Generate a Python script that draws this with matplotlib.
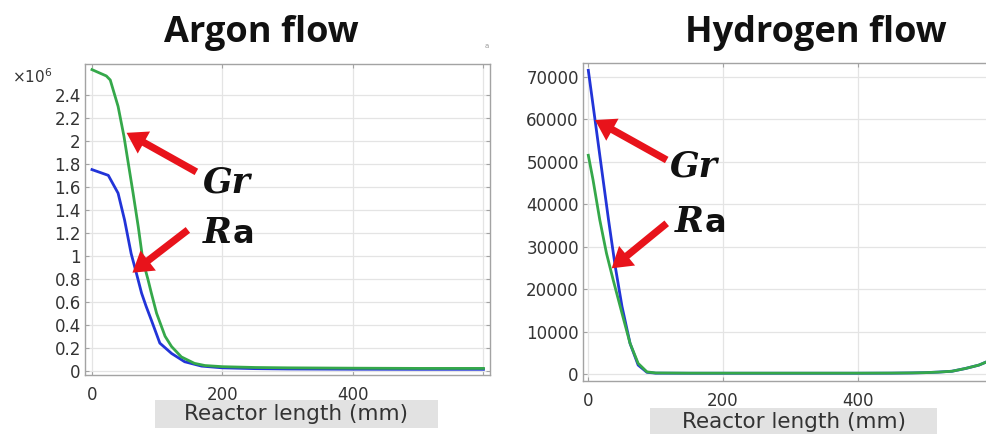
import matplotlib
matplotlib.use("Agg")
import matplotlib.pyplot as plt
from matplotlib.patches import Rectangle
from matplotlib.ticker import FuncFormatter

# ---- Argon flow: dimensionless numbers along the reactor ----
argon_blue_x = [0, 25, 40, 50, 60, 68, 76, 83, 91, 104, 122, 142, 168, 200, 250, 300, 400, 500, 600]
argon_blue_y = [1.75e6, 1.70e6, 1.545e6, 1.31e6, 1.02e6, 0.85e6, 0.675e6, 0.56e6, 0.44e6, 0.24e6,
                0.15e6, 0.078e6, 0.04e6, 0.025e6, 0.018e6, 0.015e6, 0.013e6, 0.012e6, 0.012e6]

argon_green_x = [0, 22, 28, 40, 49, 63, 71, 78, 86, 91, 99, 112, 122, 137, 157, 173, 200, 250,
                 300, 400, 500, 600]
argon_green_y = [2.62e6, 2.565e6, 2.53e6, 2.30e6, 2.04e6, 1.545e6, 1.25e6, 0.96e6, 0.79e6, 0.675e6,
                 0.50e6, 0.30e6, 0.21e6, 0.12e6, 0.064e6, 0.045e6, 0.035e6, 0.028e6, 0.025e6,
                 0.022e6, 0.02e6, 0.02e6]

# ---- Hydrogen flow ----
hydrogen_blue_x = [0, 10, 20, 30, 40, 50, 62, 74, 87, 100, 150, 200, 300, 400, 450, 480, 500,
                   520, 540, 560, 580, 592, 600]
hydrogen_blue_y = [71500, 59800, 48000, 36300, 25300, 15900, 7200, 2100, 400, 200, 180, 180, 180,
                   180, 200, 250, 320, 450, 650, 1300, 2100, 2900, 3500]

hydrogen_green_x = [0, 7, 17, 27, 37, 50, 62, 74, 87, 100, 150, 200, 300, 400, 450, 480, 500,
                    520, 540, 560, 580, 592, 600]
hydrogen_green_y = [51500, 45700, 36300, 28400, 22100, 14300, 7200, 2500, 500, 250, 200, 200, 200,
                    200, 220, 260, 320, 450, 650, 1300, 2100, 2900, 3500]

argon_yticks = [0, 0.2e6, 0.4e6, 0.6e6, 0.8e6, 1.0e6, 1.2e6, 1.4e6, 1.6e6, 1.8e6, 2.0e6, 2.2e6, 2.4e6]
hydrogen_yticks = [0, 10000, 20000, 30000, 40000, 50000, 60000, 70000]
x_ticks = [0, 200, 400, 600]
x_ticklabels = ["0", "200", "400", ""]

panel_titles = ["Argon flow", "Hydrogen flow"]
x_label = "Reactor length (mm)"

W, H = 987, 434
BLUE = "#2234d8"
GREEN = "#35a84a"
RED = "#e8131b"
TXT = "#333333"

fig = plt.figure(figsize=(W / 100, H / 100), dpi=100)
fig.patch.set_facecolor("white")


def px_axes(left, top, right, bottom):
    return fig.add_axes([left / W, 1 - bottom / H, (right - left) / W, (bottom - top) / H])


def style(ax):
    for s in ax.spines.values():
        s.set_color("#a3a3a3")
        s.set_linewidth(1.0)
    ax.grid(True, color="#e4e4e4", lw=0.9)
    ax.set_axisbelow(True)
    ax.tick_params(direction="in", length=3, width=0.8, color="#a3a3a3",
                   top=True, right=True, labelsize=12, labelcolor=TXT)
    ax.tick_params(axis="y", pad=3)
    ax.tick_params(axis="x", pad=8)


# ---- left panel ----
axL = px_axes(85, 64, 490, 375)
style(axL)
axL.plot(argon_blue_x, argon_blue_y, color=BLUE, lw=2.0)
axL.plot(argon_green_x, argon_green_y, color=GREEN, lw=2.0)
axL.set_xlim(-10.7, 610)
axL.set_ylim(-0.0374e6, 2.669e6)
axL.set_yticks(argon_yticks)
axL.yaxis.set_major_formatter(FuncFormatter(lambda v, p: f"{v / 1e6:g}"))
axL.set_xticks(x_ticks)
axL.set_xticklabels(x_ticklabels)
fig.text(12 / W, 1 - 77 / H, r"$\times$10$^6$", fontsize=11, color=TXT, va="center", ha="left")

# ---- right panel ----
axR = px_axes(583, 63, 993, 381)
style(axR)
axR.plot(hydrogen_blue_x, hydrogen_blue_y, color=BLUE, lw=2.0)
axR.plot(hydrogen_green_x, hydrogen_green_y, color=GREEN, lw=2.0)
axR.set_xlim(-7.9, (993 - 588.3) / 0.6735)
axR.set_ylim(-1648, 73228)
axR.set_yticks(hydrogen_yticks)
axR.set_xticks(x_ticks)
axR.set_xticklabels(x_ticklabels)

# ---- titles ----
fig.text(261 / W, 1 - 33 / H, panel_titles[0], fontsize=26, fontweight="bold",
         family="Open Sans", ha="center", va="center", color="#111111")
fig.text(816 / W, 1 - 33 / H, panel_titles[1], fontsize=26, fontweight="bold",
         family="Open Sans", ha="center", va="center", color="#111111")
fig.text(487 / W, 1 - 46 / H, "a", fontsize=5, color="#999999", ha="center", va="center")

# ---- x-axis labels on grey bands ----
for (x0, y0, x1, y1), cy in [((155, 400, 438, 428), 414), ((650, 408, 937, 436), 422)]:
    fig.patches.append(Rectangle((x0 / W, 1 - y1 / H), (x1 - x0) / W, (y1 - y0) / H,
                                 transform=fig.transFigure, facecolor="#e2e2e2",
                                 edgecolor="none", zorder=0))
    fig.text((x0 + x1) / 2 / W, 1 - cy / H, x_label, fontsize=15.5, family="DejaVu Sans",
             color=TXT, ha="center", va="center")

# ---- Gr / Ra call-outs ----
arrow_style = "simple,head_length=1.1,head_width=1.4,tail_width=0.4"


def callout(ax, head, tail):
    ax.annotate("", xy=head, xytext=tail,
                arrowprops=dict(arrowstyle=arrow_style, mutation_scale=13, color=RED,
                                shrinkA=0, shrinkB=0, lw=0))


def two_part(ax, x, y, first, second, size=25):
    t1 = ax.text(x, y, first, fontsize=size, fontweight="bold", style="italic",
                 family="DejaVu Serif", ha="left", va="baseline", color="#111111")
    if second:
        fig.canvas.draw()
        bb = t1.get_window_extent()
        inv = ax.transData.inverted()
        xr, _ = inv.transform((bb.x1 + 1, 0))
        ax.text(xr, y, second, fontsize=size - 2, fontweight="bold", family="DejaVu Sans",
                ha="left", va="baseline", color="#111111")


# left panel call-outs
callout(axL, (53, 2.07e6), (160, 1.73e6))
callout(axL, (62, 0.853e6), (147, 1.225e6))
two_part(axL, 170, (370.7 - 193) / 114.9 * 1e6, "Gr", "")
two_part(axL, 170, (370.7 - 243) / 114.9 * 1e6, "R", "a")

# right panel call-outs
callout(axR, (10, 59800), (116.4, 50390))
callout(axR, (34.7, 24890), (116.4, 35480))
two_part(axR, (670 - 588.3) / 0.6735, (374 - 177) / 0.004247, "Gr", "")
two_part(axR, (675 - 588.3) / 0.6735, (374 - 232) / 0.004247, "R", "a")

fig.savefig("out.png", dpi=100)
